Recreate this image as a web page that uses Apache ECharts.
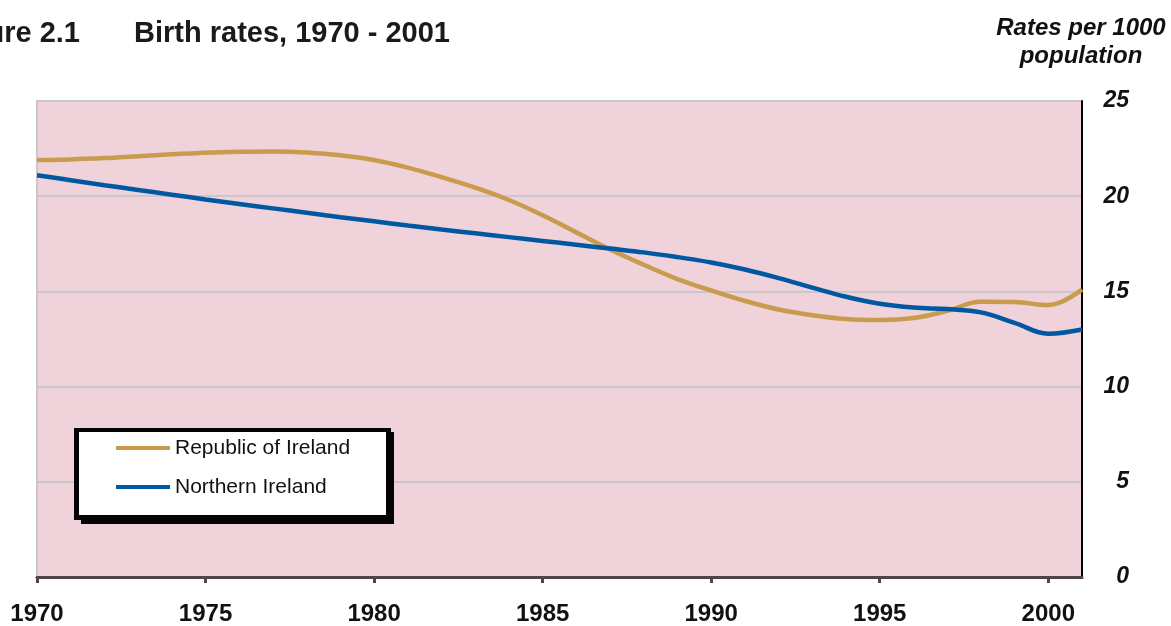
<!DOCTYPE html>
<html>
<head>
<meta charset="utf-8">
<style>
html,body{margin:0;padding:0;background:#fff;}
#c{width:1171px;height:626px;}
</style>
<script src="https://cdn.jsdelivr.net/npm/echarts@6/dist/echarts.min.js"></script>
</head>
<body>
<div id="c"></div>
<script>
const years = [1970,1971,1972,1973,1974,1975,1976,1977,1978,1979,1980,1981,1982,1983,1984,1985,1986,1987,1988,1989,1990,1991,1992,1993,1994,1995,1996,1997,1998,1999,2000,2001];
const republicOfIreland = [21.9,21.93,22.0,22.1,22.2,22.28,22.33,22.35,22.3,22.15,21.9,21.5,21.0,20.45,19.8,19.0,18.1,17.2,16.4,15.65,15.05,14.5,14.05,13.75,13.55,13.5,13.6,13.98,14.45,14.44,14.28,15.1];
const northernIreland = [21.1,20.84,20.58,20.33,20.08,19.83,19.59,19.36,19.13,18.9,18.68,18.46,18.25,18.05,17.85,17.65,17.45,17.25,17.05,16.8,16.52,16.15,15.7,15.2,14.72,14.35,14.15,14.07,13.9,13.35,12.78,13.0];
const seriesNames = ['Republic of Ireland','Northern Ireland'];
const yTicks = [0,5,10,15,20,25];

const chart = echarts.init(document.getElementById('c'), null, {renderer:'canvas'});
const font = '"Liberation Sans", Arial, Helvetica, sans-serif';
chart.setOption({
  animation:false,
  textStyle:{fontFamily:font},
  grid:{left:37,right:89,top:101,bottom:47,show:true,backgroundColor:'#EFD2DA',borderColor:'#C9C6CC',borderWidth:2},
  graphic:[
    {type:'text',x:80,y:19,style:{text:'Figure 2.1',font:'bold 29px '+font,fill:'#1a1a1e',align:'right'}},
    {type:'text',x:134,y:19,style:{text:'Birth rates, 1970 - 2001',font:'bold 29px '+font,fill:'#1a1a1e'}},
    {type:'text',x:1081,y:14,style:{text:'Rates per 1000\npopulation',font:'italic bold 24px '+font,fill:'#111',align:'center',lineHeight:28}},
    {type:'rect',z:20,shape:{x:81,y:432,width:313,height:92},style:{fill:'#050308'}},
    {type:'rect',z:21,shape:{x:74,y:428,width:317,height:92},style:{fill:'#050308'}},
    {type:'rect',z:22,shape:{x:79,y:432,width:307,height:83},style:{fill:'#ffffff'}}
  ],
  legend:{
    left:116,top:436,orient:'vertical',z:30,
    data:seriesNames,
    icon:'rect',itemWidth:54,itemHeight:4,itemGap:15,itemStyle:{borderWidth:0},
    padding:0,
    textStyle:{fontSize:21,color:'#111',lineHeight:24,fontFamily:font}
  },
  xAxis:{
    type:'value',min:1970,max:2001,interval:5,
    axisLine:{show:true,lineStyle:{color:'#4f4548',width:3}},
    axisTick:{show:true,length:6,lineStyle:{color:'#4f4548',width:3}},
    axisLabel:{showMaxLabel:false,margin:25,fontSize:24,fontWeight:'bold',color:'#111',formatter:v=>String(v)},
    splitLine:{show:false}
  },
  yAxis:{
    type:'value',position:'right',min:0,max:25,interval:5,
    axisLine:{show:true,lineStyle:{color:'#000',width:2}},
    axisTick:{show:false},
    axisLabel:{align:'right',margin:47,fontSize:23,fontWeight:'bold',fontStyle:'italic',color:'#111',padding:[4,0,0,0],
      formatter:v=>yTicks.includes(v)?String(v):''},
    splitLine:{show:true,lineStyle:{color:'#C9C6CC',width:2}}
  },
  series:[
    {name:seriesNames[0],type:'line',data:years.map((y,i)=>[y,republicOfIreland[i]]),smooth:0.4,showSymbol:false,
     lineStyle:{color:'#C99B4D',width:4.5},itemStyle:{color:'#C99B4D'},z:3},
    {name:seriesNames[1],type:'line',data:years.map((y,i)=>[y,northernIreland[i]]),smooth:0.4,showSymbol:false,
     lineStyle:{color:'#0057A2',width:4.5},itemStyle:{color:'#0057A2'},z:4}
  ]
});
</script>
</body>
</html>
